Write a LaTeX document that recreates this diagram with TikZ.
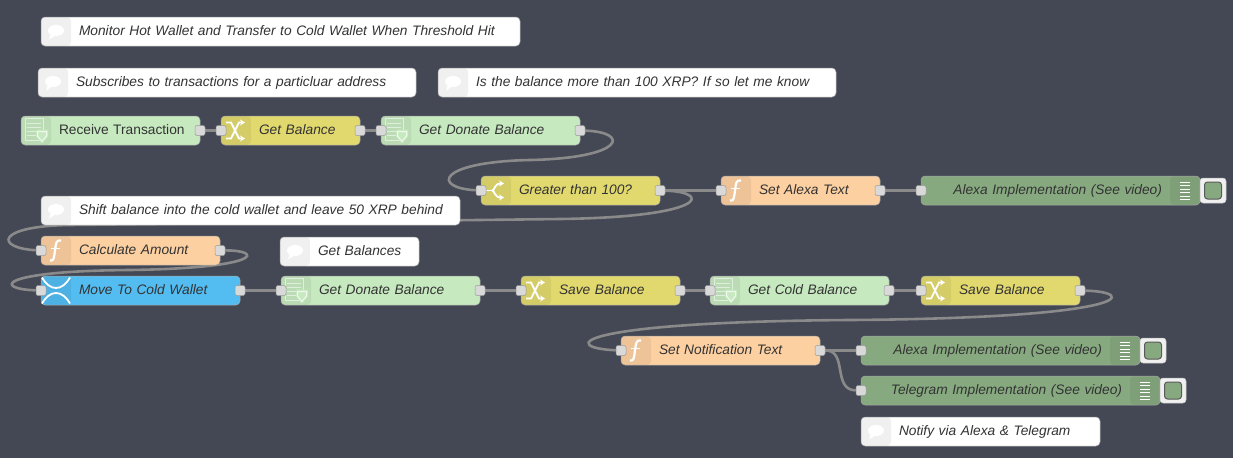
\documentclass[tikz,border=0pt]{standalone}
\usepackage{fontspec}
\setmainfont{Liberation Sans}
\usetikzlibrary{arrows.meta, positioning, backgrounds}
\definecolor{nrBack}{HTML}{434854}
\definecolor{nrGreen}{HTML}{C7E9C0}
\definecolor{nrYellow}{HTML}{E2D96E}
\definecolor{nrOrange}{HTML}{FDD0A2}
\definecolor{nrBlue}{HTML}{53BDF2}
\definecolor{nrDebug}{HTML}{87A980}
\definecolor{nrPort}{HTML}{D9D9D9}
\definecolor{nrWire}{HTML}{8A8A8A}
\definecolor{nrText}{HTML}{333333}

\begin{document}
\begin{tikzpicture}[
      x=1pt, y=-1pt,
      every node/.style={font=\fontsize{13.75}{16}\selectfont\itshape, text=nrText},
      shell/.style={draw=black!35, line width=0.5pt, rounded corners=4pt, anchor=west, outer sep=0pt,
                    minimum height=29pt, text height=11pt, text depth=3pt, inner xsep=8pt, inner ysep=0pt},
      flow/.style={shell, text width=#1pt-16pt, align=left,
                   execute at begin node={\hspace*{30pt}},
                   path picture={\fill[black, opacity=0.06] (path picture bounding box.north west) rectangle ++(30,29);}},
      sheet/.style={flow=#1, fill=nrGreen},
      change/.style={flow=#1, fill=nrYellow},
      func/.style={flow=#1, fill=nrOrange},
      ripple/.style={flow=#1, fill=nrBlue},
      note/.style={flow=#1, fill=white},
      debug/.style={shell, fill=nrDebug, text width=#1pt-16pt, align=right,
                    execute at end node={\hspace*{30pt}},
                    path picture={\fill[black, opacity=0.06] (path picture bounding box.north east) rectangle ++(-30,29);
                                  \foreach \i in {-9,-5.5,...,9} \draw[white, line width=1pt]
                                    ([xshift=-20pt, yshift=\i pt]path picture bounding box.east) -- ++(10,0);}},
      port/.style={draw=black!40, line width=0.5pt, fill=nrPort, rounded corners=2pt, minimum size=10pt, inner sep=0pt},
      dbtn/.style={draw=black!25, line width=0.5pt, fill=nrPort!40, rounded corners=3pt, minimum width=26pt, minimum height=25pt,
                   inner sep=0pt, outer sep=0pt, anchor=west},
      dled/.style={draw=black!65, line width=1pt, fill=nrDebug, rounded corners=3pt, minimum size=17pt, inner sep=0pt},
      wire/.style={draw=nrWire, line width=2.6pt},
      ico/.style={draw=white, line width=1.8pt},
      sheet icon/.pic={
        \draw[white, opacity=0.55, line width=1pt] (-11,-12) rectangle (7,10);
        \foreach \i in {-7,-3,1,5} \draw[white, opacity=0.55, line width=1pt] (-9,\i) -- (5,\i);
        \fill[nrGreen] (0,-1) -- (12,-1) -- (12,6) -- (6,13) -- (0,6) -- cycle;
        \draw[white, opacity=0.7, line width=1pt] (1.5,1) -- (10.5,1) -- (10.5,5.5) -- (6,11) -- (1.5,5.5) -- cycle;
      },
      shuffle icon/.pic={
        \draw[ico, -{Stealth[length=5pt, width=6pt]}] (-10,-8) -- (-5,-8) -- (3,8) -- (9,8);
        \draw[ico, -{Stealth[length=5pt, width=6pt]}] (-10,8) -- (-5,8) -- (3,-8) -- (9,-8);
      },
      func icon/.pic={
        \draw[ico, line width=2.2pt] (5,-10) .. controls (0,-11) and (0,-7) .. (-1,0) .. controls (-2,7) and (-2,11) .. (-6,10);
        \draw[ico] (-5,-2) -- (4,-2);
      },
      switch icon/.pic={
        \draw[ico] (-10,0) -- (-4,0);
        \draw[ico, -{Stealth[length=5pt, width=6pt]}] (-4,0) .. controls (-1,0) and (-2,-7) .. (8,-7);
        \draw[ico, -{Stealth[length=5pt, width=6pt]}] (-4,0) .. controls (-1,0) and (-2,7) .. (8,7);
      },
      ripple icon/.pic={
        \draw[ico] (-14,-13) .. controls (-6,1) and (6,1) .. (14,-13);
        \draw[ico] (-14,13) .. controls (-6,-1) and (6,-1) .. (14,13);
      },
      bubble icon/.pic={
        \fill[white] (0,-1) ellipse (8pt and 5.5pt);
        \fill[white] (-5,2) -- (-7,8) -- (1,3) -- cycle;
      }
    ]
    \useasboundingbox (0,0) rectangle (1233,458);
    % --- Comments ---
    \node[note=479] (title) at (41,31.5) {Monitor Hot Wallet and Transfer to Cold Wallet When Threshold Hit};
    \node[note=378] (subs) at (38,82.5) {Subscribes to transactions for a particluar address};
    \node[note=398] (more) at (438,82.5) {Is the balance more than 100 XRP? If so let me know};
    \node[note=419] (shift) at (41,210.5) {Shift balance into the cold wallet and leave 50 XRP behind};
    \node[note=139] (bals) at (280,251.5) {Get Balances};
    \node[note=239] (notify) at (861,431.5) {Notify via Alexa \& Telegram};

    % --- First row ---
    \node[sheet=179, font=\fontsize{13.75}{16}\selectfont] (recv) at (21,130.5) {Receive Transaction};
    \node[change=139, right=21pt of recv] (getbal) {Get Balance};
    \node[sheet=199, right=21pt of getbal] (donate) {Get Donate Balance};

    % --- Threshold row ---
    \node[change=179] (greater) at (481,190.5) {Greater than 100?};
    \node[func=159, right=61pt of greater] (alexatxt) {Set Alexa Text};
    \node[debug=279, right=41pt of alexatxt] (alexa) {Alexa Implementation (See video)};
    \node[dbtn, right=0pt of alexa] (alexabtn) {};
    \node[dled] (alexaled) at (alexabtn) {};

    % --- Transfer row ---
    \node[func=179] (calc) at (41,250.5) {Calculate Amount};
    \node[ripple=199] (move) at (41,290.5) {Move To Cold Wallet};
    \node[sheet=199, right=41pt of move] (donate2) {Get Donate Balance};
    \node[change=159, right=41pt of donate2] (save) {Save Balance};
    \node[sheet=179, right=30pt of save] (cold) {Get Cold Balance};
    \node[change=159, right=32pt of cold] (save2) {Save Balance};

    % --- Notification ---
    \node[func=199] (notif) at (621,350.5) {Set Notification Text};
    \node[debug=279] (alexa2) at (861,350.5) {Alexa Implementation (See video)};
    \node[dbtn, right=0pt of alexa2] (alexa2btn) {};
    \node[dled] (alexa2led) at (alexa2btn) {};
    \node[debug=299] (tele) at (861,390.5) {Telegram Implementation (See video)};
    \node[dbtn, right=0pt of tele] (telebtn) {};
    \node[dled] (teleled) at (telebtn) {};

    % --- Icons ---
    \foreach \n in {recv,donate,donate2,cold} \pic at ([xshift=15pt]\n.west) {sheet icon};
    \foreach \n in {getbal,save,save2} \pic at ([xshift=15pt]\n.west) {shuffle icon};
    \foreach \n in {calc,alexatxt,notif} \pic at ([xshift=15pt]\n.west) {func icon};
    \foreach \n in {title,subs,more,shift,bals,notify} \pic at ([xshift=15pt]\n.west) {bubble icon};
    \pic at ([xshift=15pt]greater.west) {switch icon};
    \pic at ([xshift=15pt]move.west) {ripple icon};

    % --- Ports ---
    \foreach \n in {getbal,donate,greater,alexatxt,alexa,calc,move,donate2,save,cold,save2,notif,alexa2,tele}
      \node[port] (\n-in) at (\n.west) {};
    \foreach \n in {recv,getbal,donate,greater,alexatxt,calc,move,donate2,save,cold,save2,notif}
      \node[port] (\n-out) at (\n.east) {};

    % --- Wires ---
    \coordinate (w1) at (530,160);
    \coordinate (w2) at (560,219);
    \coordinate (w3) at (70,225);
    \coordinate (w4) at (130,270);
    \coordinate (w5) at (850,320);
    \begin{scope}[on background layer]
      \fill[nrBack] (0,0) rectangle (1233,458);
      \draw[wire] (recv-out) -- (getbal-in);
      \draw[wire] (getbal-out) -- (donate-in);
      \draw[wire] (donate-out) .. controls (630,132) and (626,158) .. (w1) .. controls (436,162) and (432,188) .. (greater-in);
      \draw[wire] (greater-out) -- (alexatxt-in);
      \draw[wire] (alexatxt-out) -- (alexa-in);
      \draw[wire] (greater-out) .. controls (712,192) and (708,217) .. (w2) -- (w3) .. controls (-5,226) and (-5,248) .. (calc-in);
      \draw[wire] (calc-out) .. controls (262,250) and (266,268) .. (w4) .. controls (-4,271) and (-6,289) .. (move-in);
      \draw[wire] (move-out) -- (donate2-in);
      \draw[wire] (donate2-out) -- (save-in);
      \draw[wire] (save-out) -- (cold-in);
      \draw[wire] (cold-out) -- (save2-in);
      \draw[wire] (save2-out) .. controls (1139,292) and (1134,318) .. (w5) .. controls (566,322) and (561,348) .. (notif-in);
      \draw[wire] (notif-out) -- (alexa2-in);
      \draw[wire] (notif-out) .. controls (848,350) and (832,390) .. (tele-in);
    \end{scope}
  \end{tikzpicture}
\end{document}
